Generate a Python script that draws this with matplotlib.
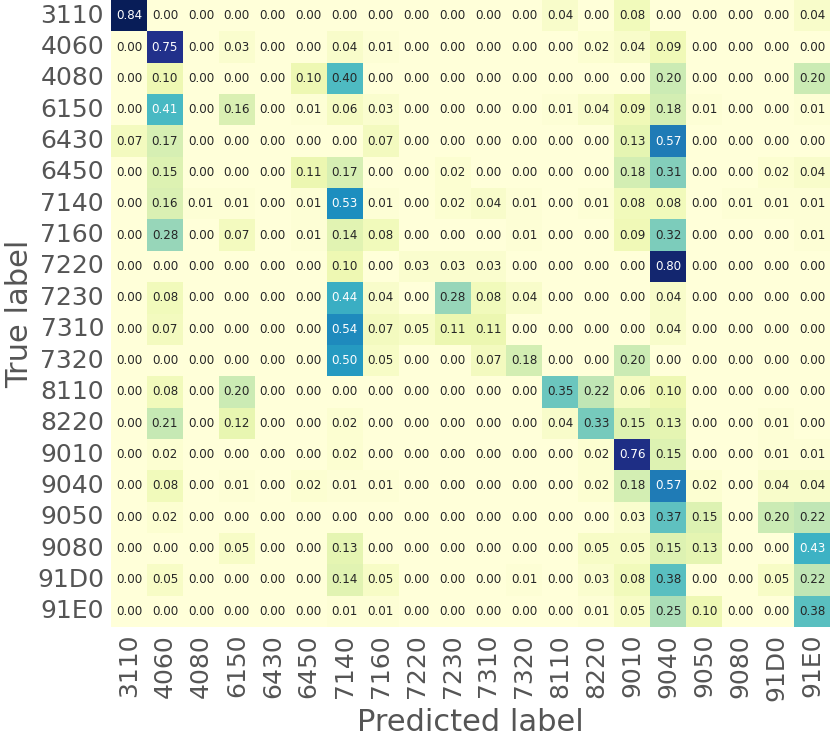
import numpy as np
import matplotlib
matplotlib.use("Agg")
import matplotlib.pyplot as plt
import seaborn as sns

labels = ["3110", "4060", "4080", "6150", "6430", "6450", "7140", "7160", "7220", "7230",
          "7310", "7320", "8110", "8220", "9010", "9040", "9050", "9080", "91D0", "91E0"]

r_3110 = [0.84, 0.00, 0.00, 0.00, 0.00, 0.00, 0.00, 0.00, 0.00, 0.00, 0.00, 0.00, 0.04, 0.00, 0.08, 0.00, 0.00, 0.00, 0.00, 0.04]
r_4060 = [0.00, 0.75, 0.00, 0.03, 0.00, 0.00, 0.04, 0.01, 0.00, 0.00, 0.00, 0.00, 0.00, 0.02, 0.04, 0.09, 0.00, 0.00, 0.00, 0.00]
r_4080 = [0.00, 0.10, 0.00, 0.00, 0.00, 0.10, 0.40, 0.00, 0.00, 0.00, 0.00, 0.00, 0.00, 0.00, 0.00, 0.20, 0.00, 0.00, 0.00, 0.20]
r_6150 = [0.00, 0.41, 0.00, 0.16, 0.00, 0.01, 0.06, 0.03, 0.00, 0.00, 0.00, 0.00, 0.01, 0.04, 0.09, 0.18, 0.01, 0.00, 0.00, 0.01]
r_6430 = [0.07, 0.17, 0.00, 0.00, 0.00, 0.00, 0.00, 0.07, 0.00, 0.00, 0.00, 0.00, 0.00, 0.00, 0.13, 0.57, 0.00, 0.00, 0.00, 0.00]
r_6450 = [0.00, 0.15, 0.00, 0.00, 0.00, 0.11, 0.17, 0.00, 0.00, 0.02, 0.00, 0.00, 0.00, 0.00, 0.18, 0.31, 0.00, 0.00, 0.02, 0.04]
r_7140 = [0.00, 0.16, 0.01, 0.01, 0.00, 0.01, 0.53, 0.01, 0.00, 0.02, 0.04, 0.01, 0.00, 0.01, 0.08, 0.08, 0.00, 0.01, 0.01, 0.01]
r_7160 = [0.00, 0.28, 0.00, 0.07, 0.00, 0.01, 0.14, 0.08, 0.00, 0.00, 0.00, 0.01, 0.00, 0.00, 0.09, 0.32, 0.00, 0.00, 0.00, 0.01]
r_7220 = [0.00, 0.00, 0.00, 0.00, 0.00, 0.00, 0.10, 0.00, 0.03, 0.03, 0.03, 0.00, 0.00, 0.00, 0.00, 0.80, 0.00, 0.00, 0.00, 0.00]
r_7230 = [0.00, 0.08, 0.00, 0.00, 0.00, 0.00, 0.44, 0.04, 0.00, 0.28, 0.08, 0.04, 0.00, 0.00, 0.00, 0.04, 0.00, 0.00, 0.00, 0.00]
r_7310 = [0.00, 0.07, 0.00, 0.00, 0.00, 0.00, 0.54, 0.07, 0.05, 0.11, 0.11, 0.00, 0.00, 0.00, 0.00, 0.04, 0.00, 0.00, 0.00, 0.00]
r_7320 = [0.00, 0.00, 0.00, 0.00, 0.00, 0.00, 0.50, 0.05, 0.00, 0.00, 0.07, 0.18, 0.00, 0.00, 0.20, 0.00, 0.00, 0.00, 0.00, 0.00]
r_8110 = [0.00, 0.08, 0.00, 0.20, 0.00, 0.00, 0.00, 0.00, 0.00, 0.00, 0.00, 0.00, 0.35, 0.22, 0.06, 0.10, 0.00, 0.00, 0.00, 0.00]
r_8220 = [0.00, 0.21, 0.00, 0.12, 0.00, 0.00, 0.02, 0.00, 0.00, 0.00, 0.00, 0.00, 0.04, 0.33, 0.15, 0.13, 0.00, 0.00, 0.01, 0.00]
r_9010 = [0.00, 0.02, 0.00, 0.00, 0.00, 0.00, 0.02, 0.00, 0.00, 0.00, 0.00, 0.00, 0.00, 0.02, 0.76, 0.15, 0.00, 0.00, 0.01, 0.01]
r_9040 = [0.00, 0.08, 0.00, 0.01, 0.00, 0.02, 0.01, 0.01, 0.00, 0.00, 0.00, 0.00, 0.00, 0.02, 0.18, 0.57, 0.02, 0.00, 0.04, 0.04]
r_9050 = [0.00, 0.02, 0.00, 0.00, 0.00, 0.00, 0.00, 0.00, 0.00, 0.00, 0.00, 0.00, 0.00, 0.00, 0.03, 0.37, 0.15, 0.00, 0.20, 0.22]
r_9080 = [0.00, 0.00, 0.00, 0.05, 0.00, 0.00, 0.13, 0.00, 0.00, 0.00, 0.00, 0.00, 0.00, 0.05, 0.05, 0.15, 0.13, 0.00, 0.00, 0.43]
r_91D0 = [0.00, 0.05, 0.00, 0.00, 0.00, 0.00, 0.14, 0.05, 0.00, 0.00, 0.00, 0.01, 0.00, 0.03, 0.08, 0.38, 0.00, 0.00, 0.05, 0.22]
r_91E0 = [0.00, 0.00, 0.00, 0.00, 0.00, 0.00, 0.01, 0.01, 0.00, 0.00, 0.00, 0.00, 0.00, 0.01, 0.05, 0.25, 0.10, 0.00, 0.00, 0.38]

rows = [r_3110, r_4060, r_4080, r_6150, r_6430, r_6450, r_7140, r_7160, r_7220, r_7230,
        r_7310, r_7320, r_8110, r_8220, r_9010, r_9040, r_9050, r_9080, r_91D0, r_91E0]
cm = np.array(rows)

fig = plt.figure(figsize=(8.3, 7.4), dpi=100)
ax = fig.add_axes([111 / 830, 1 - 627 / 740, 719 / 830, 627 / 740])
sns.heatmap(cm, ax=ax, cmap="YlGnBu", annot=True, fmt=".2f", cbar=False,
            xticklabels=labels, yticklabels=labels,
            annot_kws={"fontsize": 8.6})

tick_color = "#555555"
ax.tick_params(axis="both", length=0, labelsize=18, colors=tick_color, pad=5)
plt.setp(ax.get_xticklabels(), rotation=90)
plt.setp(ax.get_yticklabels(), rotation=0)
ax.set_xlabel("Predicted label", fontsize=22, color=tick_color, labelpad=5)
ax.set_ylabel("True label", fontsize=22, color=tick_color, labelpad=2)

fig.savefig("out.png", dpi=100)
